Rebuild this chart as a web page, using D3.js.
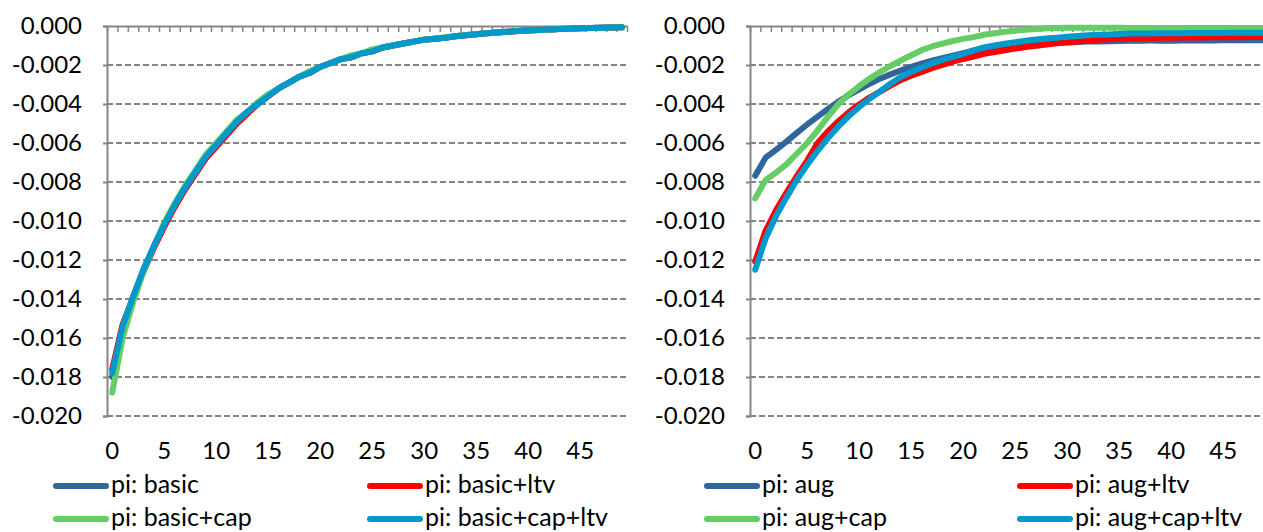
<!DOCTYPE html>
<html>
<head>
<meta charset="utf-8">
<script src="https://cdn.jsdelivr.net/npm/d3@7"></script>
<style>
  html, body { margin: 0; padding: 0; background: #fff; }
  svg { display: block; font-family: Lato, "Open Sans", sans-serif; }
  .tick text { fill: #000; }
</style>
</head>
<body>
<div id="chart"></div>
<script>
// periods 0..49
const periods = d3.range(50);
const xLabels = [0, 5, 10, 15, 20, 25, 30, 35, 40, 45];
const yTicks = [0, -0.002, -0.004, -0.006, -0.008, -0.010, -0.012, -0.014, -0.016, -0.018, -0.020];

// left panel
const piBasic = [-0.0180, -0.0154, -0.0139, -0.0125, -0.0113, -0.0102, -0.0092, -0.0083, -0.0075, -0.0067,
  -0.0061, -0.0055, -0.0049, -0.0044, -0.0040, -0.0036, -0.0032, -0.0029, -0.0026, -0.0024,
  -0.0021, -0.0019, -0.0017, -0.0016, -0.0014, -0.0013, -0.0011, -0.0010, -0.0009, -0.0008,
  -0.0007, -0.00065, -0.0006, -0.00053, -0.00047, -0.00042, -0.00037, -0.00033, -0.0003, -0.00026,
  -0.00023, -0.0002, -0.00018, -0.00016, -0.00014, -0.00012, -0.0001, -0.00009, -0.00008, -0.00007];
const piBasicLtv = [-0.0176, -0.0153, -0.0140, -0.0126, -0.0114, -0.0103, -0.0093, -0.0084, -0.0076, -0.0068,
  -0.0062, -0.0056, -0.0050, -0.0045, -0.0040, -0.0036, -0.0032, -0.0029, -0.0026, -0.0024,
  -0.0021, -0.0019, -0.0017, -0.0016, -0.0014, -0.0013, -0.0011, -0.0010, -0.0009, -0.0008,
  -0.0007, -0.00065, -0.0006, -0.00053, -0.00047, -0.00042, -0.00037, -0.00033, -0.0003, -0.00026,
  -0.00023, -0.0002, -0.00018, -0.00016, -0.00014, -0.00012, -0.0001, -0.00009, -0.00008, -0.00007];
const piBasicCap = [-0.0188, -0.0160, -0.0142, -0.0126, -0.0113, -0.0101, -0.0091, -0.0082, -0.0074, -0.0066,
  -0.0060, -0.0054, -0.0048, -0.0044, -0.0039, -0.0035, -0.0032, -0.0029, -0.0026, -0.0023,
  -0.0021, -0.0019, -0.0017, -0.0015, -0.0014, -0.0012, -0.0011, -0.0010, -0.0009, -0.0008,
  -0.0007, -0.00064, -0.00058, -0.00052, -0.00046, -0.00041, -0.00037, -0.00033, -0.0003, -0.00026,
  -0.00023, -0.0002, -0.00018, -0.00016, -0.00014, -0.00012, -0.0001, -0.00009, -0.00008, -0.00007];
const piBasicCapLtv = [-0.0178, -0.0154, -0.0139, -0.0125, -0.0113, -0.0102, -0.0092, -0.0083, -0.0075, -0.0067,
  -0.0061, -0.0055, -0.0049, -0.0044, -0.0040, -0.0036, -0.0032, -0.0029, -0.0026, -0.0024,
  -0.0021, -0.0019, -0.0017, -0.0016, -0.0014, -0.0013, -0.0011, -0.0010, -0.0009, -0.0008,
  -0.0007, -0.00065, -0.0006, -0.00053, -0.00047, -0.00042, -0.00037, -0.00033, -0.0003, -0.00026,
  -0.00023, -0.0002, -0.00018, -0.00016, -0.00014, -0.00012, -0.0001, -0.00009, -0.00008, -0.00007];

// right panel
const piAug = [-0.00768, -0.00675, -0.00635, -0.00593, -0.00548, -0.00505, -0.00465, -0.00425, -0.00388, -0.00355,
  -0.00325, -0.00296, -0.00270, -0.00248, -0.00228, -0.00210, -0.00193, -0.00178, -0.00165, -0.00152,
  -0.00140, -0.00127, -0.00115, -0.00108, -0.00102, -0.00097, -0.00093, -0.00090, -0.00088, -0.00086,
  -0.00084, -0.00082, -0.00080, -0.00079, -0.00078, -0.00077, -0.00076, -0.00076, -0.00075, -0.00075,
  -0.00075, -0.00074, -0.00074, -0.00074, -0.00074, -0.00073, -0.00073, -0.00073, -0.00073, -0.00073];
const piAugLtv = [-0.01209, -0.01050, -0.00945, -0.00855, -0.00770, -0.00690, -0.00600, -0.00540, -0.00488, -0.00442,
  -0.00402, -0.00367, -0.00337, -0.00306, -0.00277, -0.00255, -0.00235, -0.00216, -0.00199, -0.00183,
  -0.00169, -0.00157, -0.00143, -0.00133, -0.00124, -0.00116, -0.00108, -0.00101, -0.00095, -0.00089,
  -0.00084, -0.00079, -0.00075, -0.00071, -0.00068, -0.00065, -0.00063, -0.00062, -0.00061, -0.00060,
  -0.00060, -0.00059, -0.00059, -0.00059, -0.00058, -0.00058, -0.00058, -0.00057, -0.00057, -0.00057];
const piAugCap = [-0.00884, -0.00790, -0.00752, -0.00710, -0.00655, -0.00600, -0.00535, -0.00465, -0.00400, -0.00350,
  -0.00308, -0.00270, -0.00236, -0.00205, -0.00177, -0.00150, -0.00124, -0.00105, -0.00090, -0.00077,
  -0.00066, -0.00057, -0.00045, -0.00037, -0.00030, -0.00024, -0.00019, -0.00015, -0.00012, -0.00010,
  -0.00009, -0.00009, -0.00009, -0.00009, -0.00009, -0.00009, -0.00010, -0.00010, -0.00010, -0.00010,
  -0.00010, -0.00010, -0.00010, -0.00010, -0.00010, -0.00010, -0.00010, -0.00010, -0.00010, -0.00010];
const piAugCapLtv = [-0.01250, -0.01090, -0.00975, -0.00880, -0.00790, -0.00712, -0.00640, -0.00575, -0.00515, -0.00462,
  -0.00415, -0.00373, -0.00335, -0.00296, -0.00262, -0.00236, -0.00213, -0.00192, -0.00174, -0.00158,
  -0.00143, -0.00125, -0.00110, -0.00100, -0.00091, -0.00083, -0.00076, -0.00069, -0.00064, -0.00060,
  -0.00055, -0.00051, -0.00048, -0.00045, -0.00043, -0.00041, -0.00039, -0.00038, -0.00038, -0.00037,
  -0.00037, -0.00037, -0.00036, -0.00036, -0.00036, -0.00036, -0.00035, -0.00035, -0.00035, -0.00035];

const COLORS = ["#31659b", "#ff0000", "#66cc66", "#0099cc"];

const panels = [
  { x0: 107, legendX: [53, 367],
    series: [["pi: basic", piBasic], ["pi: basic+ltv", piBasicLtv], ["pi: basic+cap", piBasicCap], ["pi: basic+cap+ltv", piBasicCapLtv]] },
  { x0: 750, legendX: [704, 1017],
    series: [["pi: aug", piAug], ["pi: aug+ltv", piAugLtv], ["pi: aug+cap", piAugCap], ["pi: aug+cap+ltv", piAugCapLtv]] },
];

const W = 1263, H = 532;
const plotTop = 26, plotBottom = 416, plotW = 520;
const fmt = d3.formatLocale({ decimal: ".", thousands: ",", grouping: [3], currency: ["", ""], minus: "-" }).format(".3f");

const svg = d3.select("#chart").append("svg").attr("width", W).attr("height", H);

const y = d3.scaleLinear().domain([-0.020, 0]).range([plotBottom, plotTop]);

panels.forEach((p) => {
  const g = svg.append("g");
  const x = d3.scaleBand().domain(periods).range([p.x0, p.x0 + plotW]);
  const xb = d3.scaleLinear().domain([0, periods.length]).range([p.x0, p.x0 + plotW]);
  const cx = (i) => x(i) + x.bandwidth() / 2;

  // dashed gridlines
  g.append("g")
    .selectAll("line")
    .data(yTicks.filter((v) => v !== 0))
    .join("line")
    .attr("x1", p.x0).attr("x2", p.x0 + plotW)
    .attr("y1", (d) => y(d)).attr("y2", (d) => y(d))
    .attr("stroke", "#858585").attr("stroke-width", 2)
    .attr("stroke-dasharray", "6,3");

  // y axis
  const ya = g.append("g")
    .attr("transform", `translate(${p.x0},0)`)
    .call(d3.axisLeft(y).tickValues(yTicks).tickFormat(fmt).tickSize(4).tickPadding(21));
  ya.select(".domain").attr("stroke", "#858585").attr("stroke-width", 2);
  ya.selectAll(".tick line").attr("stroke", "#858585").attr("stroke-width", 2);
  ya.selectAll(".tick text").style("font-size", "24px").style("font-family", "Lato, sans-serif");

  // x axis at zero line (top), ticks between categories
  const xa = g.append("g")
    .attr("transform", `translate(0,${plotTop})`)
    .call(d3.axisBottom(xb).tickValues(d3.range(periods.length + 1)).tickSize(6).tickSizeOuter(0).tickFormat(""));
  xa.select(".domain").attr("stroke", "#858585").attr("stroke-width", 2);
  xa.selectAll(".tick line").attr("stroke", "#858585").attr("stroke-width", 1.5);

  // category labels below plot
  const xl = g.append("g")
    .attr("transform", `translate(0,${plotBottom})`)
    .call(d3.axisBottom(x).tickValues(xLabels).tickSize(0).tickPadding(26));
  xl.select(".domain").remove();
  xl.selectAll(".tick text").style("font-size", "24px").style("font-family", "Lato, sans-serif");

  // lines
  const line = d3.line().x((d, i) => cx(i)).y((d) => y(d));
  p.series.forEach(([name, vals], k) => {
    g.append("path")
      .datum(vals)
      .attr("d", line)
      .attr("fill", "none")
      .attr("stroke", COLORS[k])
      .attr("stroke-width", 6)
      .attr("stroke-linecap", "round")
      .attr("stroke-linejoin", "round");
  });

  // legend
  const rows = [486, 519];
  p.series.forEach(([name], k) => {
    const lx = p.legendX[k % 2];
    const ly = rows[Math.floor(k / 2)];
    g.append("line")
      .attr("x1", lx + 3).attr("x2", lx + 53)
      .attr("y1", ly).attr("y2", ly)
      .attr("stroke", COLORS[k]).attr("stroke-width", 6)
      .attr("stroke-linecap", "round");
    g.append("text")
      .attr("x", lx + 58).attr("y", ly + 7)
      .style("font-size", "25px")
      .attr("fill", "#000")
      .text(name);
  });
});
</script>
</body>
</html>
